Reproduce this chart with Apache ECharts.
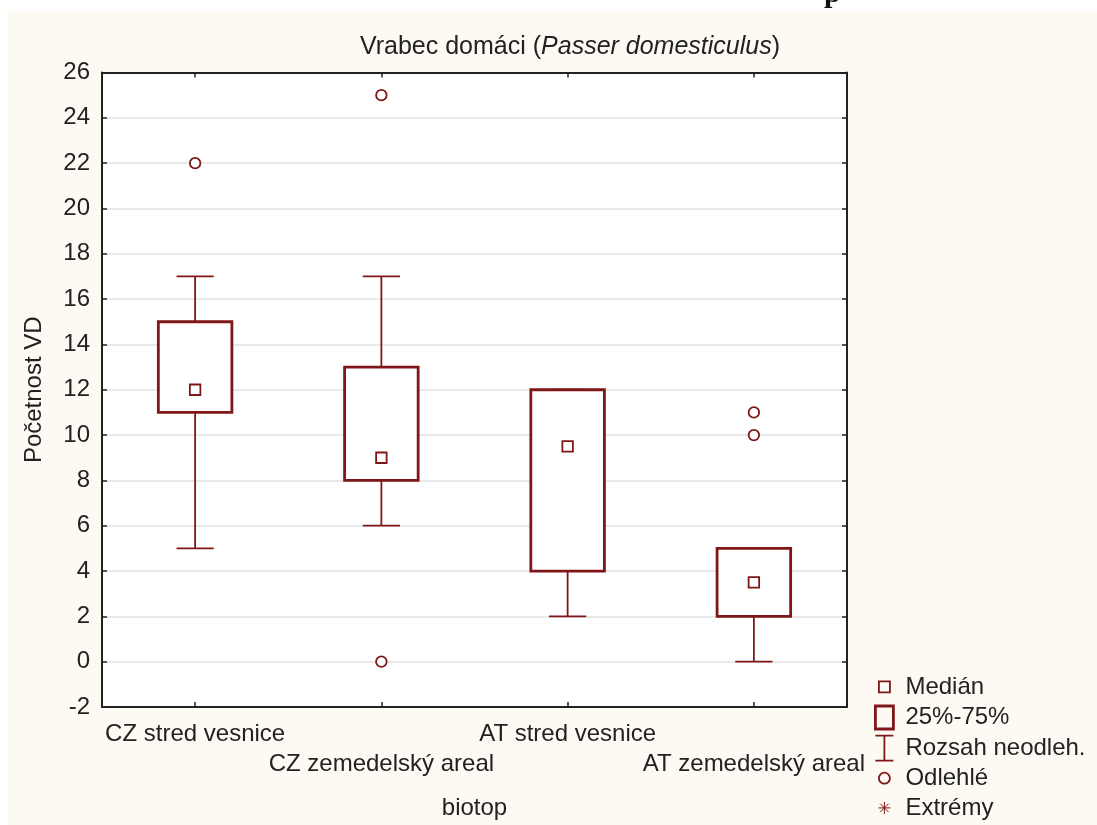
<!DOCTYPE html>
<html>
<head>
<meta charset="utf-8">
<script src="https://cdn.jsdelivr.net/npm/echarts@6/dist/echarts.min.js"></script>
<style>html,body{margin:0;padding:0;background:#fff}#c{width:1097px;height:825px}</style>
</head>
<body>
<div id="c"></div>
<script>
// ---- data ----
const categories = ['CZ stred vesnice', 'CZ zemedelský areal', 'AT stred vesnice', 'AT zemedelský areal'];
const whiskerLow = [5, 6, 2, 0];
const whiskerHigh = [17, 17, 12, 5];
const q1 = [11, 8, 4, 2];
const q3 = [15, 13, 12, 5];
const medians = [12, 9, 9.5, 3.5];
const outlierCat = [0, 1, 1, 3, 3];
const outlierVal = [22, 25, 0, 10, 11];
const yTicks = [-2, 0, 2, 4, 6, 8, 10, 12, 14, 16, 18, 20, 22, 24, 26];
const legendNames = ['Medián', '25%-75%', 'Rozsah neodleh.', 'Odlehlé', 'Extrémy'];

const C = '#7f1719';
const TXT = '#222222';
const FONT = '"Liberation Sans", Arial, sans-serif';

const boxData = categories.map((c, i) => [i, q1[i], q3[i]]);
const whiskerData = categories.map((c, i) => [i, whiskerLow[i], whiskerHigh[i]]);
const medianData = categories.map((c, i) => [i, medians[i]]);
const outlierData = outlierCat.map((c, i) => [c, outlierVal[i]]);

function renderBox(params, api) {
  const x = api.value(0);
  const top = api.coord([x, api.value(2)]);
  const bot = api.coord([x, api.value(1)]);
  const w = api.size([1, 0])[0] * 0.395;
  return {
    type: 'rect',
    shape: { x: top[0] - w / 2, y: top[1], width: w, height: bot[1] - top[1] },
    style: { fill: '#ffffff', stroke: C, lineWidth: 2.8 }
  };
}
function renderWhisker(params, api) {
  const x = api.value(0);
  const lo = api.coord([x, api.value(1)]);
  const hi = api.coord([x, api.value(2)]);
  const cw = api.size([1, 0])[0] * 0.2;
  const st = { stroke: C, lineWidth: 1.8 };
  return {
    type: 'group',
    children: [
      { type: 'line', shape: { x1: hi[0], y1: hi[1], x2: lo[0], y2: lo[1] }, style: st },
      { type: 'line', shape: { x1: hi[0] - cw / 2, y1: hi[1], x2: hi[0] + cw / 2, y2: hi[1] }, style: st },
      { type: 'line', shape: { x1: lo[0] - cw / 2, y1: lo[1], x2: lo[0] + cw / 2, y2: lo[1] }, style: st }
    ]
  };
}

const PAD = 'M0,0 M26,26 ';
const icons = {
  'Medián': PAD + 'M4.5,7.5 L15.5,7.5 L15.5,18.5 L4.5,18.5 Z',
  '25%-75%': PAD + 'M1,1.5 L19,1.5 L19,24.5 L1,24.5 Z',
  'Rozsah neodleh.': PAD + 'M1,0.5 L19,0.5 M10,0.5 L10,25.5 M1,25.5 L19,25.5',
  'Odlehlé': PAD + 'M15.5,13 A5.5,5.5 0 1 1 4.5,13 A5.5,5.5 0 1 1 15.5,13 Z',
  'Extrémy': PAD + 'M4,13 L16,13 M10,7 L10,19 M5.8,8.8 L14.2,17.2 M14.2,8.8 L5.8,17.2'
};
const iconWidth = { 'Medián': 1.8, '25%-75%': 2.8, 'Rozsah neodleh.': 1.8, 'Odlehlé': 1.8, 'Extrémy': 1 };

const chart = echarts.init(document.getElementById('c'), null, { renderer: 'canvas' });
chart.setOption({
  animation: false,
  backgroundColor: '#fdfaf3',
  textStyle: { fontFamily: FONT },
  graphic: [
    { type: 'rect', left: 0, top: 0, shape: { width: 1097, height: 11 }, style: { fill: '#ffffff' }, silent: true },
    { type: 'rect', left: 0, top: 0, shape: { width: 8, height: 825 }, style: { fill: '#ffffff' }, silent: true },
    { type: 'text', x: 824, y: 9, style: { text: 'p', font: 'bold 30px "Liberation Serif", serif', fill: '#111', verticalAlign: 'bottom' }, silent: true }
  ],
  title: {
    text: '{n|Vrabec domáci (}{i|Passer domesticulus}{n|)}',
    left: 565,
    top: 30,
    textAlign: 'center',
    textStyle: {
      fontWeight: 'normal',
      rich: {
        n: { fontSize: 25, color: TXT, fontFamily: FONT, fontWeight: 'normal' },
        i: { fontSize: 25, color: TXT, fontFamily: FONT, fontStyle: 'italic', fontWeight: 'normal' }
      }
    }
  },
  legend: {
    orient: 'vertical',
    left: 873,
    top: 673,
    height: 220,
    padding: 0,
    itemWidth: 26,
    itemHeight: 26,
    itemGap: 2.3,
    selectedMode: false,
    textStyle: { fontSize: 24, color: TXT, fontFamily: FONT },
    data: legendNames.map(n => ({
      name: n,
      icon: 'path://' + icons[n],
      itemStyle: { color: 'rgba(0,0,0,0)', borderColor: C, borderWidth: iconWidth[n], opacity: 1 }
    }))
  },
  grid: {
    left: 102, top: 72.5, width: 745, height: 634.5,
    show: true, backgroundColor: '#ffffff', borderWidth: 0
  },
  xAxis: [
    {
      type: 'category',
      data: categories,
      boundaryGap: true,
      name: 'biotop',
      nameLocation: 'middle',
      nameGap: 89,
      nameTextStyle: { fontSize: 24, color: TXT, fontFamily: FONT },
      axisLine: { show: true, onZero: false, lineStyle: { color: TXT, width: 2 } },
      axisTick: { show: true, inside: true, alignWithLabel: true, length: 5, lineStyle: { color: TXT, width: 1.5 } },
      axisLabel: {
        interval: 0, margin: 12, fontSize: 24, color: TXT, lineHeight: 30, fontFamily: FONT,
        formatter: (v, i) => (i % 2 === 1 ? '\n' + v : v)
      },
      splitLine: { show: false }
    },
    {
      type: 'category',
      data: categories,
      boundaryGap: true,
      position: 'top',
      axisLine: { show: true, onZero: false, lineStyle: { color: TXT, width: 2 } },
      axisTick: { show: true, inside: true, alignWithLabel: true, length: 5, lineStyle: { color: TXT, width: 1.5 } },
      axisLabel: { show: false },
      splitLine: { show: false }
    }
  ],
  yAxis: [
    {
      type: 'value',
      min: yTicks[0], max: yTicks[yTicks.length - 1], interval: 2,
      name: 'Početnost VD',
      nameLocation: 'middle',
      nameGap: 56,
      nameTextStyle: { fontSize: 24, color: TXT, fontFamily: FONT },
      axisLine: { show: true, onZero: false, lineStyle: { color: TXT, width: 2 } },
      axisTick: { show: true, inside: true, length: 5, lineStyle: { color: TXT, width: 1.5 } },
      axisLabel: { margin: 12, fontSize: 24, color: TXT, fontFamily: FONT },
      splitLine: { show: true, lineStyle: { color: '#e2e2e2', width: 1.5 } }
    },
    {
      type: 'value',
      min: yTicks[0], max: yTicks[yTicks.length - 1], interval: 2,
      position: 'right',
      axisLine: { show: true, onZero: false, lineStyle: { color: TXT, width: 2 } },
      axisTick: { show: true, inside: true, length: 5, lineStyle: { color: TXT, width: 1.5 } },
      axisLabel: { show: false },
      splitLine: { show: false }
    }
  ],
  series: [
    {
      name: 'Rozsah neodleh.', type: 'custom', renderItem: renderWhisker,
      data: whiskerData, encode: { x: 0, y: [1, 2] }, z: 3, itemStyle: { color: C }
    },
    {
      name: '25%-75%', type: 'custom', renderItem: renderBox,
      data: boxData, encode: { x: 0, y: [1, 2] }, z: 4, itemStyle: { color: C }
    },
    {
      name: 'Medián', type: 'scatter', data: medianData, symbol: 'rect', symbolSize: 10.5, z: 5,
      itemStyle: { color: '#ffffff', borderColor: C, borderWidth: 1.8, opacity: 1 }
    },
    {
      name: 'Odlehlé', type: 'scatter', data: outlierData, symbol: 'circle', symbolSize: 10.5, z: 5,
      itemStyle: { color: '#ffffff', borderColor: C, borderWidth: 1.8, opacity: 1 }
    },
    {
      name: 'Extrémy', type: 'scatter', data: [], symbol: 'circle', z: 5,
      itemStyle: { color: '#ffffff', borderColor: C, borderWidth: 1 }
    }
  ]
});
</script>
</body>
</html>
